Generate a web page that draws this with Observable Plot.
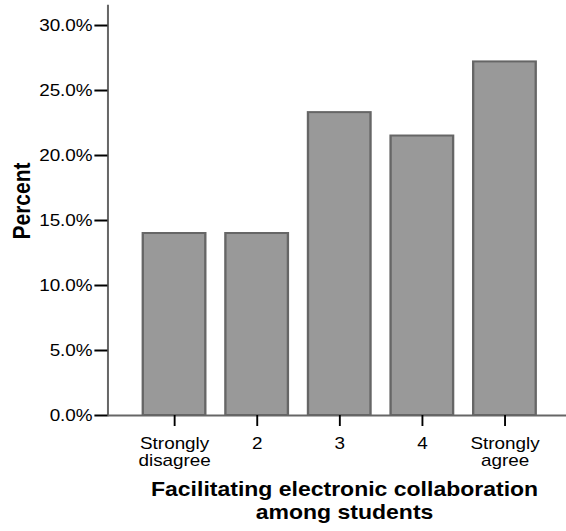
<!DOCTYPE html>
<html>
<head>
<meta charset="utf-8">
<script src="https://cdn.jsdelivr.net/npm/d3@7"></script>
<script src="https://cdn.jsdelivr.net/npm/@observablehq/plot@0.6"></script>
<style>
  html, body { margin: 0; padding: 0; background: #fff; overflow: hidden; }
  #wrap { width: 480px; transform: scaleX(1.18); transform-origin: 0 0; }
</style>
</head>
<body>
<div id="wrap"></div>
<script>
const categories = ["Strongly disagree", "2", "3", "4", "Strongly agree"];
const percents = [14.0, 14.0, 23.3, 21.5, 27.2];
const yTicks = [0, 5, 10, 15, 20, 25, 30];
const xTitle = "Facilitating electronic collaboration\namong students";
const yTitle = "Percent";

const data = categories.map((c, i) => ({category: c, percent: percents[i]}));

const chart = Plot.plot({
  width: 480,
  height: 531,
  marginLeft: 91,
  marginRight: 0,
  marginTop: 5,
  marginBottom: 116,
  style: {fontFamily: "'Liberation Sans', Arial, Helvetica, sans-serif", fontSize: "16px", color: "#000", background: "#fff"},
  x: {type: "band", domain: categories, range: [102.7, 471.9], padding: 0.24, axis: null},
  y: {domain: [0, 31.54], axis: null},
  marks: [
    Plot.barY(data, {x: "category", y: "percent", fill: "#999999", stroke: "#666666", strokeWidth: 2}),
    Plot.frame({anchor: "left", stroke: "#666666", strokeWidth: 1.7}),
    Plot.ruleY([0], {stroke: "#666666", strokeWidth: 2}),
    Plot.axisY({ticks: yTicks, tickFormat: d => d.toFixed(1) + "%", tickSize: 11, tickPadding: 2, stroke: "#000", strokeWidth: 2, label: null, fontSize: 16}),
    Plot.axisX({tickSize: 11, tickPadding: 10, tickFormat: d => d.replace(" ", "\n"), stroke: "#000", strokeWidth: 1.6, label: null, lineHeight: 1.06, fontSize: 16}),
    Plot.text([xTitle], {frameAnchor: "bottom", textAnchor: "middle", lineAnchor: "top", dy: 64, dx: 6, fontSize: 19.5, fontWeight: "bold", lineHeight: 1.18}),
    Plot.text([yTitle], {frameAnchor: "left", rotate: -90, textAnchor: "middle", lineAnchor: "middle", dx: -72.6, dy: -9.5, fontSize: 21, fontWeight: "bold"})
  ]
});
document.getElementById("wrap").appendChild(chart);
</script>
</body>
</html>
